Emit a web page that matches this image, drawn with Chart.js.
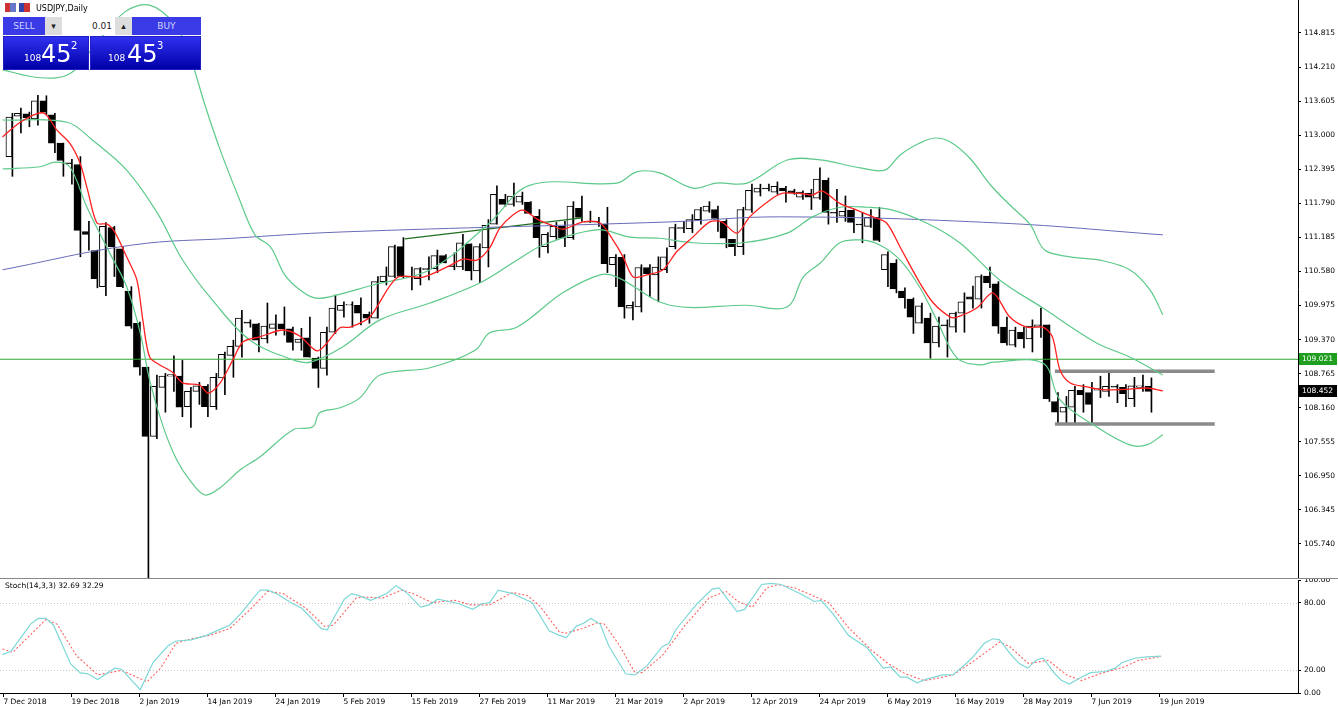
<!DOCTYPE html>
<html>
<head>
<meta charset="utf-8">
<script src="https://cdn.jsdelivr.net/npm/chart.js@4/dist/chart.umd.min.js"></script>
<style>
body{margin:0;background:#fff;font-family:"DejaVu Sans",sans-serif;}
#wrap{position:relative;width:1338px;height:708px;overflow:hidden;}
#main{position:absolute;left:0;top:0;width:1338px;height:578px;}
#stoch{position:absolute;left:0;top:578px;width:1338px;height:130px;border-top:1px solid #888;}
#title{position:absolute;left:36px;top:4px;font-size:8px;color:#000;}
.ic{position:absolute;top:3px;width:11px;height:9px;}
#w{position:absolute;left:3px;top:17px;width:198px;height:53px;}
.hd{position:absolute;top:0;height:18px;background:#3a3ae6;color:#cfd6ff;font-size:9px;line-height:18px;text-align:center;}
.px{position:absolute;top:19px;height:34px;background:linear-gradient(#3030f0,#0000a8);color:#fff;border:1px solid #2020c0;box-sizing:border-box;}
.px .s{position:absolute;bottom:6px;font-size:9px;}
.px .b{position:absolute;bottom:1px;font-size:24px;}
.px .p{position:absolute;top:3px;font-size:10px;}
</style>
</head>
<body>
<div id="wrap">
  <div id="main"><canvas id="c1" width="1338" height="578"></canvas></div>
  <div id="stoch"><canvas id="c2" width="1338" height="129"></canvas></div>
  <div class="ic" style="left:5px;background:linear-gradient(90deg,#c33 50%,#6677cc 50%)"></div>
  <div class="ic" style="left:19px;background:linear-gradient(90deg,#3344aa 50%,#cc3333 50%)"></div>
  <div id="title">USDJPY,Daily</div>
  <div id="w">
    <div class="hd" style="left:0;width:42px;">SELL</div>
    <div class="hd" style="left:42px;width:17px;background:#ddd;color:#222;">&#9662;</div>
    <div class="hd" style="left:59px;width:53px;background:#fff;color:#222;text-align:right;padding-right:3px;box-sizing:border-box;">0.01</div>
    <div class="hd" style="left:112px;width:17px;background:#ddd;color:#222;">&#9652;</div>
    <div class="hd" style="left:129px;width:69px;">BUY</div>
    <div class="px" style="left:0;width:86px;"><span class="s" style="left:20px">108</span><span class="b" style="left:37px">45</span><span class="p" style="left:67px">2</span></div>
    <div class="px" style="left:87px;width:111px;"><span class="s" style="left:17px">108</span><span class="b" style="left:36px">45</span><span class="p" style="left:66px">3</span></div>
  </div>
</div>
<script>
// daily OHLC
var opens = [112.62,113.34,113.38,113.29,113.61,113.36,112.86,112.51,112.48,111.29,
110.95,110.31,111.36,110.98,110.23,109.66,108.88,107.65,108.52,108.72,
108.72,108.18,108.45,108.54,108.18,108.69,109.09,109.25,109.68,109.65,
109.38,109.57,109.65,109.56,109.32,109.40,109.04,108.86,109.50,109.89,
109.98,109.98,109.82,109.75,110.40,110.49,111.02,110.50,110.45,110.63,
110.63,110.86,110.68,110.66,111.07,110.59,111.00,111.42,111.86,111.77,
111.81,111.81,111.56,111.02,111.20,111.38,111.18,111.70,111.47,111.47,
111.42,110.70,110.83,109.93,109.95,110.65,110.52,110.61,111.02,111.36,
111.34,111.50,111.65,111.68,111.47,111.15,111.02,111.67,111.99,112.06,
111.99,112.06,112.01,111.90,111.97,111.88,112.20,111.63,111.56,111.67,
111.42,111.38,111.54,110.61,110.73,110.23,110.09,109.66,109.75,109.31,
109.63,109.59,109.84,110.13,110.09,110.50,110.36,109.59,109.27,109.50,
109.38,109.59,109.63,108.27,108.08,108.17,108.47,108.43,108.47,108.45,
108.54,108.52,108.32,108.52,108.54];
var closes = [113.32,113.39,113.31,113.61,113.41,112.86,112.55,112.50,111.31,111.24,
110.45,111.38,111.02,110.31,109.61,108.88,107.65,108.54,108.72,108.75,
108.17,108.45,108.55,108.18,108.70,109.11,109.25,109.75,109.66,109.36,
109.61,109.65,109.56,109.32,109.38,109.06,108.86,109.50,109.93,109.98,
109.99,109.84,109.75,110.40,110.50,111.02,110.49,110.49,110.63,110.62,
110.86,110.73,110.67,111.09,110.59,111.02,111.40,111.95,111.77,111.92,
111.92,111.61,111.18,111.24,111.38,111.17,111.74,111.54,111.46,111.46,
110.72,110.83,109.95,109.98,110.65,110.54,110.66,110.84,111.36,111.35,
111.50,111.68,111.74,111.52,111.17,111.02,111.68,112.02,112.06,112.05,
112.09,112.01,111.97,111.99,111.90,112.22,111.63,111.62,111.65,111.45,
111.41,111.54,111.13,110.88,110.27,110.11,109.77,109.97,109.31,109.61,
109.62,109.84,110.04,110.09,110.49,110.38,109.61,109.31,109.54,109.38,
109.61,109.63,108.32,108.08,108.17,108.47,108.39,108.22,108.50,108.54,
108.53,108.41,108.55,108.55,108.45];
var highs = [113.39,113.48,113.41,113.71,113.70,113.39,112.86,112.57,112.62,111.47,
110.96,111.45,111.38,111.02,110.31,109.68,108.88,108.74,108.77,109.08,
109.00,108.52,108.61,108.57,108.77,109.15,109.36,109.89,109.72,109.66,
110.02,109.81,109.95,109.59,109.57,109.77,109.06,109.59,110.16,110.04,
110.04,110.11,109.86,110.49,110.66,111.05,111.18,110.66,110.65,110.84,
110.96,110.88,110.91,111.24,111.07,111.07,111.50,112.10,111.95,112.15,
111.99,111.82,111.68,111.27,111.45,111.47,111.82,111.92,111.65,111.54,
111.72,110.88,110.88,110.04,110.70,110.70,110.84,111.00,111.42,111.47,
111.59,111.72,111.82,111.74,111.50,111.15,111.72,112.13,112.13,112.13,
112.17,112.09,112.04,112.01,112.04,112.42,112.24,112.04,111.92,111.68,
111.63,111.68,111.72,110.93,110.79,110.29,110.11,110.02,109.84,109.77,
109.72,109.86,110.20,110.32,110.52,110.66,110.40,109.77,109.59,109.59,
109.72,109.93,109.63,108.43,108.36,108.54,108.57,108.61,108.72,108.77,
108.57,108.57,108.70,108.74,108.69];
var lows = [112.27,113.04,113.15,113.18,113.36,112.69,112.27,112.13,110.84,110.96,
110.29,110.15,110.49,110.29,109.57,108.74,104.90,107.61,108.08,108.45,
108.00,107.81,108.22,108.00,108.13,108.39,108.70,109.06,109.59,109.15,
109.31,109.45,109.45,109.18,109.18,109.06,108.52,108.74,109.48,109.77,
109.59,109.63,109.66,109.75,110.34,110.47,110.47,110.25,110.34,110.43,
110.56,110.73,110.61,110.61,110.43,110.38,110.66,111.42,111.74,111.74,
111.77,111.60,110.83,110.91,111.15,111.02,111.15,111.47,111.45,111.38,
110.56,110.31,109.75,109.72,109.86,110.13,110.04,110.56,110.98,111.27,
111.27,111.42,111.63,111.29,111.00,110.86,110.88,111.63,111.92,112.01,
111.95,111.81,111.95,111.86,111.68,111.86,111.42,111.45,111.47,111.27,
111.09,111.36,111.11,110.31,110.20,109.93,109.48,109.66,109.04,109.24,
109.06,109.50,109.50,109.93,109.93,110.29,109.48,109.27,109.24,109.22,
109.15,109.41,108.27,107.89,107.89,107.86,108.08,107.89,108.34,108.36,
108.25,108.18,108.18,108.45,108.08];

// indicator lines, [bar index, value]
var ma5 = [[-1.1,112.97],[0.9,113.22],[2.9,113.38],[3.9,113.38],[5.3,113.09],[6.8,112.86],[8,112.51],[8.9,112.03],[10,111.44],[11.2,111.42],[12.1,111.28],[13.5,110.84],[14.7,110.43],[15.4,109.72],[16.2,109.06],[17.4,108.92],[18.9,108.79],[20.1,108.60],[22.1,108.56],[23.1,108.42],[24.5,108.60],[26,109.01],[27.2,109.33],[29.2,109.42],[31.9,109.54],[33.9,109.43],[36,109.17],[38.6,109.58],[39.8,109.59],[42.1,109.77],[45.3,110.47],[48.4,110.48],[51.2,110.66],[53.1,110.80],[54.7,110.78],[56.2,111.00],[57.4,111.35],[58.9,111.58],[60.1,111.67],[61.8,111.51],[63.3,111.41],[64.8,111.33],[67.2,111.46],[69.2,111.44],[70.7,111.14],[71.9,110.84],[73.1,110.48],[74.7,110.52],[76.6,110.61],[78.2,110.93],[80.1,111.19],[82.1,111.46],[83.5,111.46],[85.3,111.26],[86.8,111.55],[89.2,111.85],[90.7,111.97],[93.1,111.96],[94.2,111.94],[95.3,112.01],[97.4,111.79],[99.4,111.67],[101.3,111.55],[102.9,111.44],[104.5,111.01],[106.8,110.38],[108.4,110.02],[110.4,109.77],[111.2,109.77],[113.5,109.93],[115.4,110.20],[117.4,109.77],[119.4,109.59],[121.3,109.59],[122.4,109.42],[123.3,108.83],[124.5,108.60],[126.5,108.53],[128.4,108.48],[131.5,108.49],[133.5,108.51],[135.4,108.46]];
var bbUpper = [[-1.1,114.16],[3.3,114.02],[6.8,114.09],[9.8,114.60],[13.3,115.19],[16.2,115.31],[19.2,114.96],[20.9,114.42],[22.7,113.54],[24.5,112.74],[26.8,111.85],[28.6,111.23],[30.4,111.02],[32.1,110.52],[33.9,110.25],[35.6,110.11],[37.4,110.13],[42.5,110.34],[49.2,110.61],[56.2,111.44],[60.9,112.11],[71.2,112.15],[73.5,112.35],[76.2,112.33],[80.1,112.06],[82.9,112.15],[86.5,112.15],[91.2,112.56],[95.1,112.56],[99.8,112.42],[102.7,112.38],[104.5,112.65],[106.8,112.86],[108.6,112.95],[110.4,112.88],[112.7,112.59],[115.1,112.12],[117.4,111.76],[119.8,111.41],[121.5,110.96],[124.5,110.84],[128,110.78],[131.5,110.61],[133.9,110.25],[135.4,109.81]];
var bbMid = [[-1.1,113.27],[6.5,113.23],[9.5,112.91],[13.5,112.38],[17.1,111.62],[20.1,110.78],[23.6,110.07],[28,109.36],[33.1,109.01],[35.1,108.97],[38.9,109.24],[43.3,109.72],[49.2,110.02],[55.1,110.38],[59.4,110.78],[62.5,111.05],[68.8,111.32],[72.7,111.19],[76.2,111.17],[80.1,111.09],[86,111.09],[91.2,111.26],[94.2,111.55],[97.4,111.72],[100.6,111.72],[103.6,111.67],[107.6,111.44],[111.5,111.09],[116.2,110.43],[121.3,109.93],[127.6,109.31],[131.5,109.06],[135.4,108.74]];
var bbLower = [[-1.1,112.40],[3.3,112.44],[5.1,112.52],[6.8,112.44],[8.8,111.73],[11.5,110.91],[13.5,110.31],[15.1,109.49],[16.2,108.65],[17.8,107.82],[19.4,107.23],[20.9,106.88],[22.7,106.61],[24.5,106.74],[26.8,107.05],[29.2,107.29],[33.1,107.77],[35.4,107.82],[36.2,108.07],[38.6,108.16],[40.9,108.33],[43.3,108.74],[49.2,108.87],[54.5,109.18],[56.2,109.49],[59.4,109.59],[64.8,110.20],[69.2,110.52],[71.2,110.48],[77.4,109.98],[86.5,109.98],[91.2,109.95],[93.1,110.48],[95.1,110.73],[97.4,111.09],[99.8,111.14],[102.1,111.05],[104.5,110.78],[106.8,110.30],[108.8,109.72],[111.2,109.04],[113.9,108.92],[115.4,108.97],[121.3,108.95],[123.3,108.30],[127.6,107.82],[131.5,107.50],[133.5,107.50],[135.4,107.68]];
var ma200 = [[-1.1,110.61],[14.2,111.05],[26,111.17],[38.6,111.28],[77.4,111.46],[90.4,111.55],[116.2,111.44],[135.4,111.23]];
var trendLine = [[46.2,111.16],[67.1,111.53]];
var rangeTop = [[122.7,108.81],[141.5,108.81]];
var rangeBottom = [[122.7,107.87],[141.5,107.87]];
var hLevel = 109.021;
var lastPrice = 108.452;

var priceTicks = [114.815,114.210,113.605,113.000,112.395,111.790,111.185,110.580,109.975,109.370,108.765,108.160,107.555,106.950,106.345,105.740];

// stochastic %K and %D
var stochK = [[-1.1,34],[-0.1,37],[2.2,61],[3.1,66],[4,66],[4.9,60],[6.9,26],[8,18],[8.9,17],[10.1,12],[12.1,22],[12.9,21],[15.1,3],[16.6,27],[18.4,42],[19.3,46],[21.1,47],[22.9,51],[24.7,57],[25.6,60],[26.9,70],[28.4,84],[29.2,91],[30.1,91],[31.1,88],[32.8,80],[34.1,75],[36.4,57],[37.1,56],[39.1,83],[40,88],[40.9,86],[42.2,82],[44.1,88],[45.2,95],[46.4,89],[48.1,76],[49.1,78],[50.1,83],[52.6,79],[54.2,74],[55.3,79],[56.2,80],[57.2,91],[58.9,88],[61.2,80],[63.2,55],[64.4,51],[65.2,49],[66.4,59],[67.3,62],[68.1,66],[69.2,61],[70.2,42],[72.2,17],[73.3,16],[74.7,24],[76.5,41],[77.3,44],[78.1,56],[80.6,79],[82.4,92],[83.2,93],[85.3,72],[86.2,74],[88.2,96],[89.3,97],[90.5,96],[92.7,88],[94.4,81],[95.2,82],[96.6,70],[98.4,51],[99.4,46],[100.6,40],[102.5,22],[103.4,23],[104.5,14],[105.3,14],[106.5,9],[107.5,12],[109.5,16],[110.7,16],[112.4,27],[113.2,33],[114.4,44],[115.4,48],[116.2,47],[117.4,35],[118.5,26],[119.5,22],[120.5,29],[121.3,31],[122.7,17],[123.5,11],[124.4,8],[125.8,14],[126.9,18],[128.6,19],[129.8,22],[130.6,27],[132.2,31],[133.6,32],[135.2,32.69]];
var stochD = [[-1.1,39],[0.1,36],[4,65],[5.3,61],[7.6,33],[10.1,16],[12.9,20],[15.9,10],[17.5,22],[19.3,44],[21.1,48],[23.3,51],[25.6,57],[27.9,73],[30.1,90],[31.9,88],[34.6,75],[36.8,59],[37.8,60],[40.5,84],[41.4,85],[43.6,84],[45.9,91],[47.2,88],[49.4,80],[52.1,82],[54,78],[56.2,78],[58.9,89],[60.7,86],[62.1,77],[64.4,54],[65.2,53],[67.1,57],[68.8,62],[69.7,61],[71.4,43],[73.3,18],[74.1,18],[76.5,33],[79.2,60],[82,84],[84,90],[85.4,81],[87.1,76],[88.8,93],[90.1,96],[92.1,93],[94.9,84],[96.1,80],[98.4,58],[101.1,38],[103.1,26],[105.1,17],[107.3,11],[108.9,13],[110.7,16],[112.9,27],[116.2,45],[117.4,41],[119.6,26],[121.9,29],[124.1,16],[125.8,11],[128,17],[130.8,23],[132.6,29],[135.2,32.29]];

var dateTicks = [-1,7,15,23,31,39,47,55,63,71,79,87,95,103,111,119,127,135];
var dateLabels = ["7 Dec 2018","19 Dec 2018","2 Jan 2019","14 Jan 2019","24 Jan 2019","5 Feb 2019","15 Feb 2019","27 Feb 2019","11 Mar 2019","21 Mar 2019","2 Apr 2019","12 Apr 2019","24 Apr 2019","6 May 2019","16 May 2019","28 May 2019","7 Jun 2019","19 Jun 2019"];

var X_MIN = -1.4, X_MAX = 151.3;
var font = {family: "DejaVu Sans", size: 7.5};

function pts(a) { return a.map(function (p) { return {x: p[0], y: p[1]}; }); }
function line(a, color, w, extra) {
    var d = {type: "line", data: pts(a), borderColor: color, borderWidth: w, pointRadius: 0, tension: 0.35, fill: false, order: 0};
    for (var k in extra) d[k] = extra[k];
    return d;
}

var wicks = [], bodies = [], bodyColors = [];
for (var i = 0; i < opens.length; i++) {
    wicks.push({x: i, y: [lows[i], highs[i]]});
    var o = opens[i], c = closes[i];
    if (Math.abs(o - c) < 0.015) c = o + (c >= o ? 0.015 : -0.015);
    bodies.push({x: i, y: [o, c]});
    bodyColors.push(closes[i] >= opens[i] ? "#ffffff" : "#000000");
}

var yRight = function (s) { s.width = 40; s.paddingTop = 0; s.paddingBottom = 0; };

var overlay = {
    id: "overlay",
    afterDatasetsDraw: function (chart) {
        var ctx = chart.ctx, y = chart.scales.y, a = chart.chartArea;
        function tag(v, bg) {
            var py = Math.round(y.getPixelForValue(v));
            ctx.fillStyle = bg;
            ctx.fillRect(a.right + 1, py - 6, 38, 12);
            ctx.fillStyle = "#fff";
            ctx.font = "7.5px DejaVu Sans";
            ctx.textBaseline = "middle";
            ctx.fillText(v.toFixed(3), a.right + 4, py);
        }
        tag(hLevel, "#1f9e1f");
        tag(lastPrice, "#000");
    }
};

new Chart(document.getElementById("c1"), {
    type: "bar",
    data: {
        datasets: [
            line(bbUpper, "#5cc98a", 1.2),
            line(bbMid, "#5cc98a", 1.2),
            line(bbLower, "#5cc98a", 1.2),
            line(ma200, "#6a6ab8", 1, {tension: 0.4}),
            line([[X_MIN, hLevel], [X_MAX, hLevel]], "#2ca82c", 1.2, {tension: 0}),
            line(trendLine, "#1f6f1f", 1.2, {tension: 0}),
            line(rangeTop, "#8a8a8a", 3.5, {tension: 0}),
            line(rangeBottom, "#8a8a8a", 3.5, {tension: 0}),
            {type: "bar", data: wicks, backgroundColor: "#000", barThickness: 1, order: 2},
            {type: "bar", data: bodies, backgroundColor: bodyColors, borderColor: "#000", borderWidth: 1, borderSkipped: false, barThickness: 6, order: 1},
            line(ma5, "#ff2020", 1.3, {tension: 0.3, order: -1})
        ]
    },
    options: {
        responsive: false, maintainAspectRatio: false, animation: false,
        layout: {padding: 0},
        plugins: {legend: {display: false}, tooltip: {enabled: false}},
        scales: {
            x: {type: "linear", min: X_MIN, max: X_MAX, offset: false, display: false},
            y: {
                position: "right", min: 105.136, max: 115.401,
                afterFit: yRight,
                afterBuildTicks: function (s) { s.ticks = priceTicks.map(function (v) { return {value: v}; }); },
                ticks: {font: font, color: "#000", padding: 3, autoSkip: false, callback: function (v) { return Number(v).toFixed(3); }},
                grid: {drawOnChartArea: false, tickLength: 3, color: "#000"},
                border: {color: "#000"}
            }
        }
    },
    plugins: [overlay]
});

var stochDeco = {
    id: "stochDeco",
    beforeDatasetsDraw: function (chart) {
        var ctx = chart.ctx, y = chart.scales.y, a = chart.chartArea;
        ctx.save();
        ctx.strokeStyle = "#c8c8c8";
        ctx.setLineDash([1, 2]);
        [20, 80].forEach(function (v) {
            var py = Math.round(y.getPixelForValue(v)) + 0.5;
            ctx.beginPath(); ctx.moveTo(a.left, py); ctx.lineTo(a.right, py); ctx.stroke();
        });
        ctx.restore();
        ctx.fillStyle = "#000";
        ctx.font = "7.5px DejaVu Sans";
        ctx.textBaseline = "top";
        ctx.fillText("Stoch(14,3,3) 32.69 32.29", 5, 3);
    }
};

new Chart(document.getElementById("c2"), {
    type: "line",
    data: {
        datasets: [
            line(stochK, "#7fd8d8", 1.2, {tension: 0}),
            line(stochD, "#ff6060", 1.1, {tension: 0, borderDash: [2, 2]})
        ]
    },
    options: {
        responsive: false, maintainAspectRatio: false, animation: false,
        layout: {padding: {top: 1}},
        plugins: {legend: {display: false}, tooltip: {enabled: false}},
        scales: {
            x: {
                type: "linear", min: X_MIN, max: X_MAX,
                afterFit: function (s) { s.height = 15; },
                afterBuildTicks: function (s) { s.ticks = dateTicks.map(function (v) { return {value: v}; }); },
                ticks: {font: font, color: "#000", maxRotation: 0, autoSkip: false, align: "start", padding: 1,
                    callback: function (v) { return dateLabels[dateTicks.indexOf(v)]; }},
                grid: {drawOnChartArea: false, tickLength: 4, color: "#000"},
                border: {color: "#000"}
            },
            y: {
                position: "right", min: 0, max: 100,
                afterFit: yRight,
                afterBuildTicks: function (s) { s.ticks = [0, 20, 80, 100].map(function (v) { return {value: v}; }); },
                ticks: {font: font, color: "#000", padding: 3, autoSkip: false, callback: function (v) { return Number(v).toFixed(2); }},
                grid: {drawOnChartArea: false, tickLength: 3, color: "#000"},
                border: {color: "#000"}
            }
        }
    },
    plugins: [stochDeco]
});
</script>
</body>
</html>
